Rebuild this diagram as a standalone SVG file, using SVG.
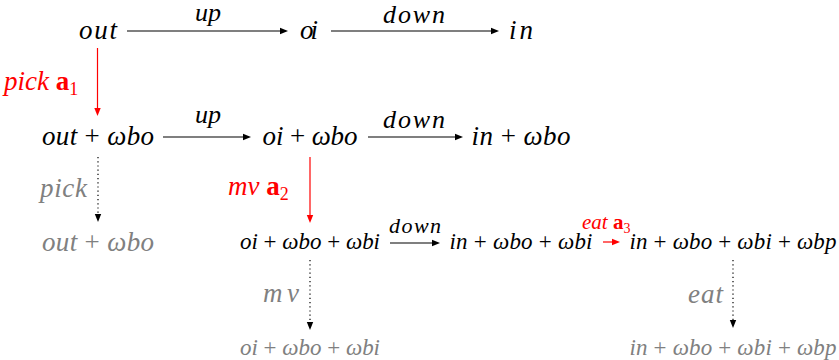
<svg xmlns="http://www.w3.org/2000/svg" width="839" height="360" viewBox="0 0 839 360">
<g id="connectors">
<line stroke="#000" stroke-width="1.2" x1="127" y1="31" x2="282" y2="31"/>
<polygon fill="#000" points="288,31 280,27.8 280,34.2"/>
<text font-family="Liberation Serif" font-style="italic" font-size="26" x="208" y="21" text-anchor="middle">up</text>
<line stroke="#000" stroke-width="1.2" x1="331" y1="31" x2="493" y2="31"/>
<polygon fill="#000" points="499,31 491,27.8 491,34.2"/>
<text font-family="Liberation Serif" font-style="italic" font-size="26" x="414" y="23" text-anchor="middle" textLength="62">down</text>
<line stroke="#ff0000" stroke-width="1.2" x1="97.5" y1="48" x2="97.5" y2="110"/>
<polygon fill="#ff0000" points="97.5,116 94.3,108 100.7,108"/>
<text font-family="Liberation Serif" font-style="italic" font-size="27" fill="#ff0000" x="4" y="90">pick <tspan font-style="normal" font-weight="bold">a</tspan><tspan font-style="normal" font-size="18" dy="5">1</tspan></text>
<line stroke="#000" stroke-width="1.2" x1="163" y1="137" x2="245" y2="137"/>
<polygon fill="#000" points="251,137 243,133.8 243,140.2"/>
<text font-family="Liberation Serif" font-style="italic" font-size="26" x="208" y="123" text-anchor="middle">up</text>
<line stroke="#000" stroke-width="1.2" x1="368" y1="137" x2="457" y2="137"/>
<polygon fill="#000" points="463,137 455,133.8 455,140.2"/>
<text font-family="Liberation Serif" font-style="italic" font-size="26" x="414" y="128" text-anchor="middle" textLength="62">down</text>
<line stroke="#000" stroke-width="1.2" stroke-dasharray="1.2 3" x1="98" y1="157" x2="98" y2="214"/>
<polygon fill="#000" points="98,222 94.8,214 101.2,214"/>
<text font-family="Liberation Serif" font-style="italic" font-size="27" fill="#808080" x="40" y="197" textLength="47">pick</text>
<line stroke="#ff0000" stroke-width="1.2" x1="310" y1="157" x2="310" y2="217"/>
<polygon fill="#ff0000" points="310,223 306.8,215 313.2,215"/>
<text font-family="Liberation Serif" font-style="italic" font-size="27" fill="#ff0000" x="228" y="195">mv <tspan font-style="normal" font-weight="bold">a</tspan><tspan font-style="normal" font-size="18" dy="5">2</tspan></text>
<line stroke="#000" stroke-width="1.2" x1="390" y1="243" x2="434" y2="243"/>
<polygon fill="#000" points="440,243 432,239.8 432,246.2"/>
<text font-family="Liberation Serif" font-style="italic" font-size="22" x="415" y="233" text-anchor="middle" textLength="52">down</text>
<line stroke="#ff0000" stroke-width="1.2" x1="603" y1="242" x2="614" y2="242"/>
<polygon fill="#ff0000" points="620,242 612,238.8 612,245.2"/>
<text font-family="Liberation Serif" font-style="italic" font-size="21" fill="#ff0000" x="582" y="229">eat <tspan font-style="normal" font-weight="bold">a</tspan><tspan font-style="normal" font-size="14" dy="4">3</tspan></text>
<line stroke="#000" stroke-width="1.2" stroke-dasharray="1.2 3" x1="310" y1="260" x2="310" y2="322"/>
<polygon fill="#000" points="310,330 306.8,322 313.2,322"/>
<text font-family="Liberation Serif" font-style="italic" font-size="27" fill="#808080" x="263" y="302" textLength="36">mv</text>
<line stroke="#000" stroke-width="1.2" stroke-dasharray="1.2 3" x1="733" y1="260" x2="733" y2="320"/>
<polygon fill="#000" points="733,328 729.8,320 736.2,320"/>
<text font-family="Liberation Serif" font-style="italic" font-size="27" fill="#808080" x="688" y="303" textLength="35">eat</text>
</g>
<g id="n-out"><text font-family="Liberation Serif" font-style="italic" font-size="27" x="98" y="39" text-anchor="middle" textLength="38">out</text></g>
<g id="n-oi"><text font-family="Liberation Serif" font-style="italic" font-size="27" x="309" y="39" text-anchor="middle" textLength="18">oi</text></g>
<g id="n-in"><text font-family="Liberation Serif" font-style="italic" font-size="27" x="521" y="39" text-anchor="middle" textLength="24">in</text></g>
<g id="n-out-bo"><text font-family="Liberation Serif" font-style="italic" font-size="27" x="98" y="145" text-anchor="middle" textLength="112">out <tspan font-style="normal">+</tspan> ωbo</text></g>
<g id="n-oi-bo"><text font-family="Liberation Serif" font-style="italic" font-size="27" x="310" y="145" text-anchor="middle" textLength="95">oi <tspan font-style="normal">+</tspan> ωbo</text></g>
<g id="n-in-bo"><text font-family="Liberation Serif" font-style="italic" font-size="27" x="521" y="145" text-anchor="middle" textLength="99">in <tspan font-style="normal">+</tspan> ωbo</text></g>
<g id="n-out-bo-g"><text font-family="Liberation Serif" font-style="italic" font-size="27" fill="#808080" x="98" y="251" text-anchor="middle" textLength="112">out <tspan font-style="normal">+</tspan> ωbo</text></g>
<g id="n-oi-bo-bi"><text font-family="Liberation Serif" font-style="italic" font-size="23" x="310" y="249" text-anchor="middle" textLength="140">oi <tspan font-style="normal">+</tspan> ωbo <tspan font-style="normal">+</tspan> ωbi</text></g>
<g id="n-in-bo-bi"><text font-family="Liberation Serif" font-style="italic" font-size="23" x="521" y="249" text-anchor="middle" textLength="143">in <tspan font-style="normal">+</tspan> ωbo <tspan font-style="normal">+</tspan> ωbi</text></g>
<g id="n-in-bo-bi-bp"><text font-family="Liberation Serif" font-style="italic" font-size="23" x="733" y="249" text-anchor="middle" textLength="207">in <tspan font-style="normal">+</tspan> ωbo <tspan font-style="normal">+</tspan> ωbi <tspan font-style="normal">+</tspan> ωbp</text></g>
<g id="n-oi-bo-bi-g"><text font-family="Liberation Serif" font-style="italic" font-size="23" fill="#808080" x="310" y="355" text-anchor="middle" textLength="140">oi <tspan font-style="normal">+</tspan> ωbo <tspan font-style="normal">+</tspan> ωbi</text></g>
<g id="n-in-bo-bi-bp-g"><text font-family="Liberation Serif" font-style="italic" font-size="23" fill="#808080" x="733" y="355" text-anchor="middle" textLength="207">in <tspan font-style="normal">+</tspan> ωbo <tspan font-style="normal">+</tspan> ωbi <tspan font-style="normal">+</tspan> ωbp</text></g>
</svg>
